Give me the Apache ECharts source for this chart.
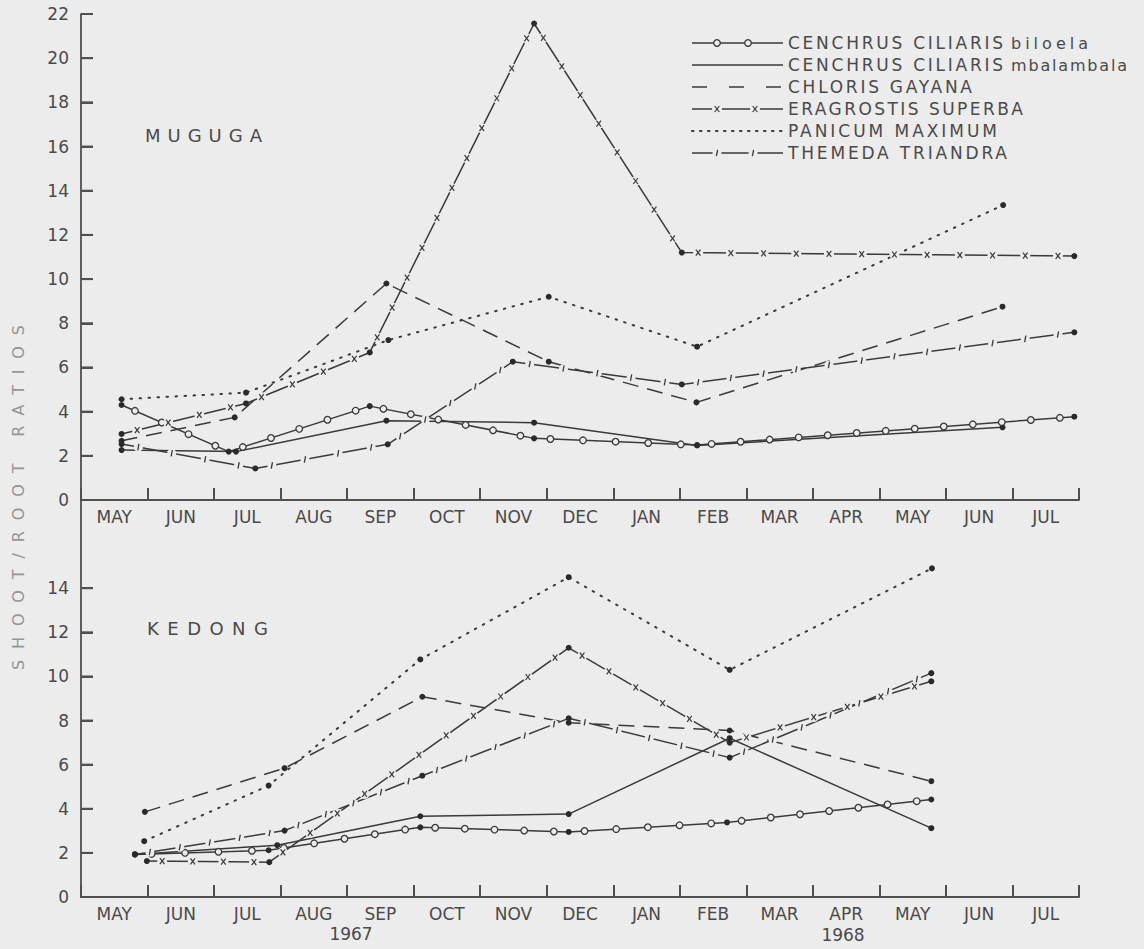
<!DOCTYPE html>
<html>
<head>
<meta charset="utf-8">
<script src="https://cdn.jsdelivr.net/npm/echarts@6/dist/echarts.min.js"></script>
<style>
  html, body { margin: 0; padding: 0; background: #ececec; }
  #chart { width: 1144px; height: 949px; }
</style>
</head>
<body>
<div id="chart"></div>
<script>
// ---------------- DATA ----------------
const months = ['MAY','JUN','JUL','AUG','SEP','OCT','NOV','DEC','JAN','FEB','MAR','APR','MAY','JUN','JUL'];
const yearLabels = ['1967', '1968'];
const panelNames = ['MUGUGA', 'KEDONG'];
const speciesGenus = ['CENCHRUS CILIARIS', 'CENCHRUS CILIARIS', 'CHLORIS GAYANA', 'ERAGROSTIS SUPERBA', 'PANICUM MAXIMUM', 'THEMEDA TRIANDRA'];
const speciesCultivar = ['biloela', 'mbalambala', '', '', '', ''];
const yTitle = 'SHOOT/ROOT RATIOS';
const mugugaTicks = [0,2,4,6,8,10,12,14,16,18,20,22];
const kedongTicks = [0,2,4,6,8,10,12,14];

// x = months elapsed since 1 May 1967, y = shoot/root ratio
const mugugaBiloela    = [[0.61,4.30],[2.22,2.19],[4.34,4.25],[6.81,2.79],[9.26,2.49],[14.93,3.77]];
const mugugaMbalambala = [[0.61,2.26],[2.33,2.19],[4.59,3.59],[6.81,3.50],[9.26,2.47],[13.85,3.29]];
const mugugaChloris    = [[0.61,2.68],[2.31,3.74],[4.59,9.80],[7.03,6.26],[9.25,4.42],[13.85,8.75]];
const mugugaEragrostis = [[0.61,2.99],[2.48,4.37],[4.34,6.68],[6.81,21.57],[9.03,11.20],[14.93,11.04]];
const mugugaPanicum    = [[0.61,4.56],[2.48,4.86],[4.62,7.24],[7.03,9.20],[9.26,6.94],[13.86,13.35]];
const mugugaThemeda    = [[0.61,2.53],[2.62,1.43],[4.61,2.52],[6.49,6.26],[9.03,5.23],[14.93,7.59]];

const kedongBiloela    = [[0.81,1.93],[2.82,2.12],[5.10,3.16],[7.33,2.95],[9.71,3.38],[12.78,4.42]];
const kedongMbalambala = [[0.81,1.93],[2.95,2.35],[5.10,3.66],[7.33,3.76],[9.75,7.20],[12.78,3.12]];
const kedongChloris    = [[0.96,3.86],[3.06,5.84],[5.13,9.08],[7.33,7.90],[9.75,7.55],[12.78,5.25]];
const kedongEragrostis = [[0.99,1.63],[2.83,1.58],[7.33,11.30],[9.75,7.00],[12.78,9.78]];
const kedongPanicum    = [[0.95,2.53],[2.82,5.05],[5.10,10.77],[7.33,14.50],[9.75,10.30],[12.79,14.90]];
const kedongThemeda    = [[0.81,1.93],[3.06,3.01],[5.13,5.50],[7.33,8.10],[9.75,6.32],[12.78,10.15]];

const mugugaSeries = [mugugaBiloela, mugugaMbalambala, mugugaChloris, mugugaEragrostis, mugugaPanicum, mugugaThemeda];
const kedongSeries = [kedongBiloela, kedongMbalambala, kedongChloris, kedongEragrostis, kedongPanicum, kedongThemeda];

// ---------------- STYLE ----------------
const BG = '#ececec', INK = '#3a3a3a', TXT = '#4a4a4a', AXIS = '#505050';
const FONT = '"DejaVu Sans", "Liberation Sans", sans-serif';
const kinds = [
  { dash: 'solid', deco: 'circle', gap: 30, legendDash: 'solid', legendDeco: [717, 748] },
  { dash: 'solid', deco: null, legendDash: 'solid', legendDeco: [] },
  { dash: [16, 9], deco: null, legendDash: [15, 22], legendDeco: [] },
  { dash: 'solid', deco: 'cross', gap: 33, legendDash: 'solid', legendDeco: [717, 755] },
  { dash: [1.5, 7.5], dotted: true, deco: null, legendDash: [1.5, 6.5], legendDeco: [] },
  { dash: 'solid', deco: 'tick', gap: 32, legendDash: 'solid', legendDeco: [717, 753] }
];

function decoShapes(kind, cx, cy) {
  if (kind === 'circle') return [
    { type: 'circle', shape: { cx, cy, r: 3.3 }, style: { fill: BG, stroke: INK, lineWidth: 1.3 } }];
  if (kind === 'cross') return [
    { type: 'circle', shape: { cx, cy, r: 5 }, style: { fill: BG } },
    { type: 'line', shape: { x1: cx - 2.3, y1: cy - 3, x2: cx + 2.3, y2: cy + 3 }, style: { stroke: INK, lineWidth: 1.2 } },
    { type: 'line', shape: { x1: cx + 2.3, y1: cy - 3, x2: cx - 2.3, y2: cy + 3 }, style: { stroke: INK, lineWidth: 1.2 } }];
  if (kind === 'tick') return [
    { type: 'circle', shape: { cx, cy, r: 4.5 }, style: { fill: BG } },
    { type: 'line', shape: { x1: cx + 0.6, y1: cy - 3.2, x2: cx - 0.6, y2: cy + 3.2 }, style: { stroke: INK, lineWidth: 1.3 } }];
  return [];
}

function lineSeries(name, pts, k, xi, yi) {
  return {
    type: 'line', name, xAxisIndex: xi, yAxisIndex: yi, data: pts,
    symbol: 'circle', symbolSize: 6, showSymbol: true,
    itemStyle: { color: '#2a2a2a' },
    lineStyle: { color: INK, width: k.dotted ? 2 : 1.5, type: k.dash, cap: k.dotted ? 'round' : 'butt' },
    z: 2, silent: true, animation: false, emphasis: { disabled: true }
  };
}

function decoSeries(name, pts, k, xi, yi) {
  return {
    type: 'custom', name: name + ' marks', xAxisIndex: xi, yAxisIndex: yi, silent: true, z: 3,
    animation: false, data: pts,
    renderItem(params, api) {
      const i = params.dataIndex;
      if (i === 0) return null;
      const a = api.coord(pts[i - 1]), b = api.coord(pts[i]);
      const L = Math.hypot(b[0] - a[0], b[1] - a[1]);
      const n = Math.round(L / k.gap);
      const children = [];
      for (let j = 0; j < n; j++) {
        const t = (j + 0.5) / n;
        children.push(...decoShapes(k.deco, a[0] + (b[0] - a[0]) * t, a[1] + (b[1] - a[1]) * t));
      }
      return { type: 'group', children };
    }
  };
}

// inward y-axis ticks placed through the axis scale
function yTickSeries(ticks, xi, yi) {
  return {
    type: 'custom', xAxisIndex: xi, yAxisIndex: yi, clip: false, z: 5,
    animation: false, data: ticks.map(v => [0, v]),
    renderItem(params, api) {
      const c = api.coord([api.value(0), api.value(1)]);
      return { type: 'rect', shape: { x: c[0], y: c[1] - 1, width: 12, height: 2 }, style: { fill: AXIS } };
    }
  };
}

const series = [];
[[mugugaSeries, 1, 0], [kedongSeries, 3, 1]].forEach(([set, xi, yi]) => {
  set.forEach((pts, s) => {
    const name = (speciesGenus[s] + ' ' + speciesCultivar[s]).trim();
    series.push(lineSeries(name, pts, kinds[s], xi, yi));
    if (kinds[s].deco) series.push(decoSeries(name, pts, kinds[s], xi, yi));
  });
});
series.push(yTickSeries(mugugaTicks, 1, 0));
series.push(yTickSeries(kedongTicks, 3, 1));

// ---------------- LEGEND (graphic) ----------------
const graphic = [];
speciesGenus.forEach((g, s) => {
  const y = 43 + s * 22;
  const k = kinds[s];
  graphic.push({ type: 'line', silent: true, shape: { x1: 692, y1: y, x2: 783, y2: y },
    style: { stroke: INK, lineWidth: k.dotted ? 2 : 1.5, lineDash: k.legendDash === 'solid' ? null : k.legendDash, lineCap: k.dotted ? 'round' : 'butt' } });
  k.legendDeco.forEach(cx => decoShapes(k.deco, cx, y).forEach(e => graphic.push(Object.assign({ silent: true }, e))));
  graphic.push({ type: 'text', x: 788, y: y, silent: true,
    style: { text: g, fill: TXT, fontSize: 17, fontFamily: FONT, align: 'left', verticalAlign: 'middle', textAlign: 'left', textVerticalAlign: 'middle' } });
  if (speciesCultivar[s]) graphic.push({ type: 'text', x: 1011, y: y, silent: true,
    style: { text: speciesCultivar[s], fill: TXT, fontSize: 16, fontFamily: FONT, align: 'left', verticalAlign: 'middle', textAlign: 'left', textVerticalAlign: 'middle' } });
});
// panel names, years, axis title
graphic.push({ type: 'text', x: 145, y: 135, silent: true,
  style: { text: panelNames[0], fill: TXT, fontSize: 18, fontFamily: FONT, align: 'left', verticalAlign: 'middle', textAlign: 'left', textVerticalAlign: 'middle' } });
graphic.push({ type: 'text', x: 147, y: 628, silent: true,
  style: { text: panelNames[1], fill: TXT, fontSize: 18, fontFamily: FONT, align: 'left', verticalAlign: 'middle', textAlign: 'left', textVerticalAlign: 'middle' } });
graphic.push({ type: 'text', x: 351, y: 934, silent: true,
  style: { text: yearLabels[0], fill: TXT, fontSize: 17, fontFamily: FONT, align: 'center', verticalAlign: 'middle', textAlign: 'center', textVerticalAlign: 'middle' } });
graphic.push({ type: 'text', x: 843, y: 935, silent: true,
  style: { text: yearLabels[1], fill: TXT, fontSize: 17, fontFamily: FONT, align: 'center', verticalAlign: 'middle', textAlign: 'center', textVerticalAlign: 'middle' } });
graphic.push({ type: 'text', x: 18, y: 670, rotation: Math.PI / 2, silent: true,
  style: { text: yTitle, fill: '#959595', fontSize: 16, fontFamily: FONT, align: 'left', verticalAlign: 'middle', textAlign: 'left', textVerticalAlign: 'middle' } });

// ---------------- AXES ----------------
const tickStyle = { color: AXIS, width: 2 };
function catAxis(grid) {
  return {
    type: 'category', gridIndex: grid, data: months, boundaryGap: true,
    axisLine: { show: true, lineStyle: { color: AXIS, width: 1.8 } },
    axisTick: { show: true, inside: true, length: 12, interval: 0, lineStyle: tickStyle },
    axisLabel: { show: true, color: TXT, fontSize: 17, fontFamily: FONT, margin: 8, interval: 0 },
    splitLine: { show: false }
  };
}
function valX(grid) {
  return { type: 'value', gridIndex: grid, min: 0, max: 15, show: false, position: 'top', splitLine: { show: false } };
}
function valY(grid, max, ticks) {
  return {
    type: 'value', gridIndex: grid, min: 0, max: max, interval: 2,
    axisLine: { show: true, lineStyle: { color: AXIS, width: 1.8 } },
    axisTick: { show: true, inside: true, length: 12, lineStyle: tickStyle, customValues: ticks },
    axisLabel: { show: true, color: TXT, fontSize: 17, fontFamily: FONT, margin: 12, customValues: ticks,
      formatter: v => (ticks.indexOf(v) >= 0 ? String(v) : '') },
    splitLine: { show: false }
  };
}

const option = {
  backgroundColor: BG,
  animation: false,
  grid: [
    { left: 81, right: 65, top: 14, height: 486 },
    { left: 81, right: 65, top: 500, height: 397 }
  ],
  xAxis: [catAxis(0), valX(0), catAxis(1), valX(1)],
  yAxis: [valY(0, 22, mugugaTicks), valY(1, 18, kedongTicks)],
  series,
  graphic
};

const chart = echarts.init(document.getElementById('chart'), null, { renderer: 'svg' });
chart.setOption(option);

// letter spacing of spaced-out lettering (as in the original drawing)
const textWidths = {
  'MUGUGA': 117, 'KEDONG': 121, 'CENCHRUS CILIARIS': 215, 'biloela': 77, 'mbalambala': 116,
  'CHLORIS GAYANA': 184, 'ERAGROSTIS SUPERBA': 235, 'PANICUM MAXIMUM': 209, 'THEMEDA TRIANDRA': 219,
  'SHOOT/ROOT RATIOS': 345
};
function applySpacing() {
  document.querySelectorAll('#chart svg text').forEach(t => {
    const w = textWidths[t.textContent];
    if (w) { t.setAttribute('textLength', w); t.setAttribute('lengthAdjust', 'spacing'); }
  });
}
chart.on('finished', applySpacing);
applySpacing();
setTimeout(applySpacing, 50);
setTimeout(applySpacing, 300);
</script>
</body>
</html>
